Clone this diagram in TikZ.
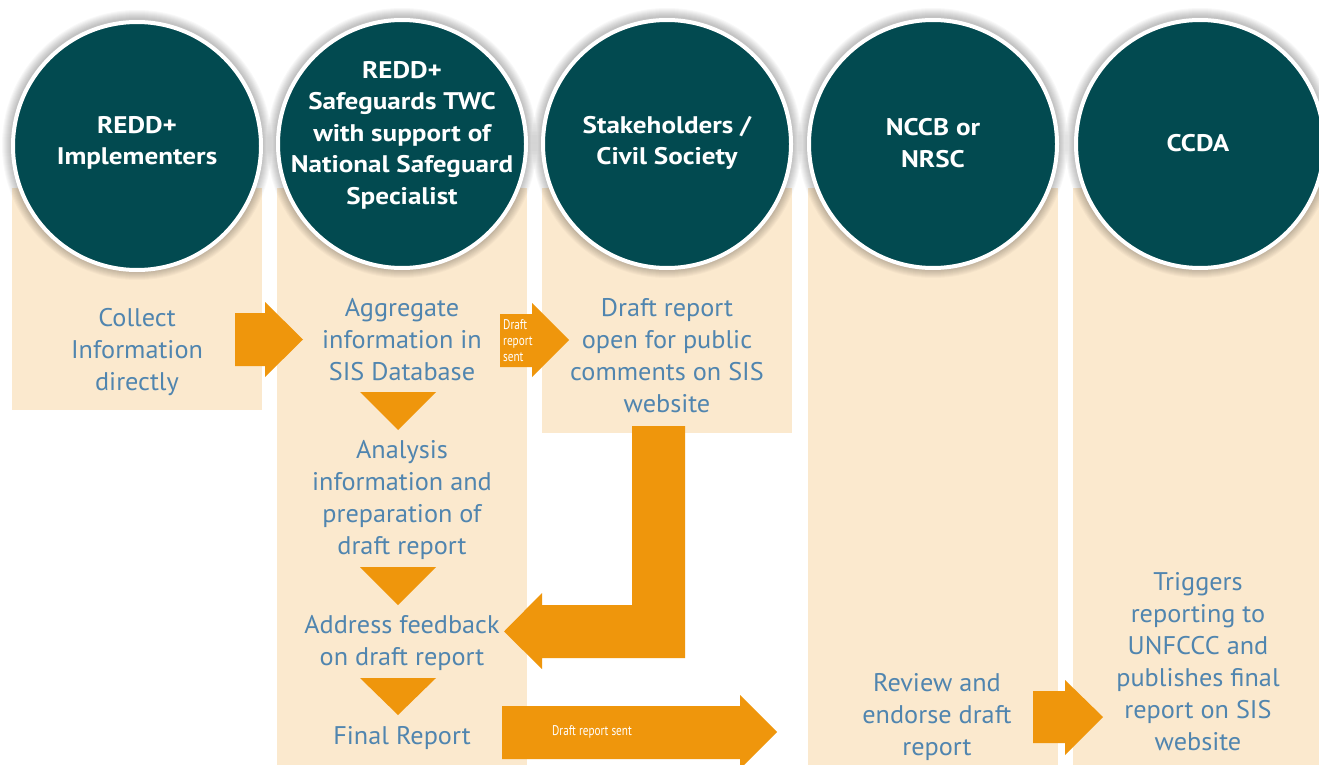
\documentclass[tikz,border=0pt]{standalone}
\usepackage{fontspec}
\setmainfont{PT Sans}
\newfontfamily\headfont[FakeStretch=1.13]{PT Sans Bold}
\newfontfamily\stepfont[FakeStretch=1.03]{PT Sans}
\newfontfamily\condfont[FakeStretch=0.8]{PT Sans}
\definecolor{teal}{RGB}{2,74,80}
\definecolor{sand}{RGB}{251,233,206}
\definecolor{amber}{RGB}{239,150,12}
\definecolor{steel}{RGB}{80,133,175}
\begin{document}
\begin{tikzpicture}[x=1pt,y=-1pt,
  lane/.style={fill=sand},
  hubfill/.style={fill=teal},
  hubrim/.style={draw=white,line width=4pt},
  hubtext/.style={text=white,font=\headfont\fontsize{24}{31.5}\selectfont,align=center,inner sep=0pt},
  steptext/.style={text=steel,font=\stepfont\fontsize{25.5}{32}\selectfont,align=center,inner sep=0pt},
  blockarrow/.style={fill=amber},
  tag/.style={text=white,font=\condfont\fontsize{14}{16}\selectfont,inner sep=0pt}]
\useasboundingbox (0,0) rectangle (1319,765);
\fill[white] (0,0) rectangle (1319,765);

% swim lanes
\fill[lane] (12,188) rectangle (262,410);
\fill[lane] (277,188) rectangle (527,765);
\fill[lane] (542,188) rectangle (792,433);
\fill[lane] (808,188) rectangle (1058,765);
\fill[lane] (1073,188) rectangle (1319,765);

% actor discs
\coordinate (h1) at (137,146);
\coordinate (h2) at (402,144);
\coordinate (h3) at (667,144);
\coordinate (h4) at (933,144);
\coordinate (h5) at (1200,144);
\foreach \h in {h1,h2,h3,h4,h5}{
  \foreach \r in {1,...,9}{
    \fill[black,opacity=0.028] ([yshift=1pt]\h) circle (126+\r);
  }
  \fill[hubfill] (\h) circle (124);
  \draw[hubrim] (\h) circle (124);
}
\node[hubtext] (n1) at (137,143) {REDD+\\Implementers};
\node[hubtext] (n2) at (402,135) {REDD+\\Safeguards TWC\\with support of\\National Safeguard\\Specialist};
\node[hubtext] (n3) at (667,143) {Stakeholders /\\Civil Society};
\node[hubtext] (n4) at (933,143) {NCCB or\\NRSC};
\node[hubtext] (n5) at (1198,143.5) {CCDA};

% process steps
\node[steptext] (s1) at (137,352) {Collect\\Information\\directly};
\node[steptext] (s2) at (402,340) {Aggregate\\information in\\SIS Database};
\node[steptext] (s3) at (402,500) {Analysis\\information and\\preparation of\\draft report};
\node[steptext] (s4) at (402,643) {Address feedback\\on draft report};
\node[steptext] (s5) at (402,738) {Final Report};
\node[steptext] (s6) at (667,356) {Draft report\\open for public\\comments on SIS\\website};
\node[steptext] (s7) at (937,717) {Review and\\endorse draft\\report};
\node[steptext] (s8) at (1198,662) {Triggers\\reporting to\\UNFCCC and\\publishes final\\report on SIS\\website};

% block arrows
\fill[blockarrow] (235,313) -- (265,313) -- (265,302) -- (303,339.5) -- (265,377) -- (265,366) -- (235,366) -- cycle;
\fill[blockarrow] (500,314) -- (532,314) -- (532,303) -- (569,340) -- (532,377) -- (532,367) -- (500,367) -- cycle;
\node[tag,align=left,anchor=west] (t1) at (503,341) {Draft\\report\\sent};
\fill[blockarrow] (632,426) -- (685,426) -- (685,658) -- (542,658) -- (542,669) -- (504,631.5) -- (542,593) -- (542,605) -- (632,605) -- cycle;
\fill[blockarrow] (502,706) -- (740,706) -- (740,695) -- (777,732) -- (740,769) -- (740,759) -- (502,759) -- cycle;
\node[tag] (t2) at (592,732) {Draft report sent};
\fill[blockarrow] (1033,691) -- (1065,691) -- (1065,680) -- (1103,717) -- (1065,755) -- (1065,743) -- (1033,743) -- cycle;

% down pointers between steps
\fill[blockarrow] (360,392) -- (436,392) -- (398,430) -- cycle;
\fill[blockarrow] (360,567) -- (436,567) -- (398,605) -- cycle;
\fill[blockarrow] (360,678) -- (436,678) -- (398,715) -- cycle;
\end{tikzpicture}
\end{document}
